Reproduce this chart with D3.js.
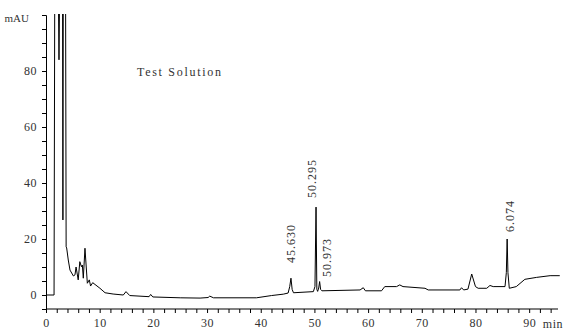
<!DOCTYPE html>
<html>
<head>
<meta charset="utf-8">
<script src="https://cdn.jsdelivr.net/npm/d3@7"></script>
<style>
  body { margin: 0; background: #fff; }
  text { font-family: "Liberation Serif", serif; fill: #333; }
</style>
</head>
<body>
<div id="chart"></div>
<script>
// chromatogram trace: [minutes, mAU]
var trace = [
    [0, 0], [1.5, 0], [1.68, 150], [2.1, 150], [2.42, 84], [2.74, 150],
    [3.05, 150], [3.15, 26.8], [3.25, 150], [3.6, 150], [3.75, 17.2],
    [3.85, 16.8], [4.15, 12.5], [4.47, 8.9], [5.1, 6.8], [5.4, 7.2], [5.6, 10],
    [6.0, 5.4], [6.3, 11.9], [6.6, 10.1], [6.77, 10.7], [6.95, 6], [7.26, 16.7],
    [7.7, 4.2], [8.07, 5.4], [8.3, 3.2], [8.7, 4.4], [10.05, 2.4], [11, 0.8],
    [12.5, 0.35], [14.4, 0], [14.9, 1.2], [15.6, -0.2], [19.2, -0.6], [19.5, 0.2],
    [19.9, -0.7], [25, -1.0], [28.7, -1.1], [30.2, -0.9], [30.5, -0.4], [31.2, -1],
    [39.2, -1], [42, -0.2], [44.2, 0.3], [45.1, 0.7], [45.4, 3], [45.63, 6],
    [45.85, 2], [46.1, 0.8], [49.8, 1.2], [50.1, 3], [50.3, 31.4], [50.45, 2],
    [50.6, 1.3], [50.8, 2.5], [50.97, 4.8], [51.15, 2], [51.4, 1.5], [58.5, 1.8],
    [59.1, 2.6], [59.5, 1.5], [62.5, 1.5], [63.1, 3], [65.3, 3], [65.9, 3.6],
    [66.5, 3.0], [70.6, 2.4], [71.2, 1.8], [77.1, 1.8], [77.4, 2.6], [77.8, 1.8],
    [78.6, 2.1], [79.3, 7.5], [80.0, 3], [80.5, 2.4], [82.1, 2.4], [82.7, 3.4],
    [83.3, 3], [85.5, 3], [85.75, 8], [85.9, 20], [86.05, 8], [86.3, 2.4],
    [87.6, 3], [89.2, 5.6], [91.4, 6.3], [93.9, 6.9], [95.7, 6.9]
];

// peak labels: text, where the label sits (minutes, mAU at its lower end)
var peakLabels = ["45.630", "50.295", "50.973", "6.074"];
var labelTimes = [45.6, 49.5, 52.4, 86.4];
var labelValues = [11.4, 34.6, 6.4, 22.5];

var yTicks = [0, 20, 40, 60, 80];
var xTicks = [0, 10, 20, 30, 40, 50, 60, 70, 80, 90];
var title = "Test Solution";

var width = 564, height = 331;
var svg = d3.select("#chart").append("svg")
    .attr("width", width)
    .attr("height", height);

var x = d3.scaleLinear().domain([0, 95]).range([46, 556]);
var y = d3.scaleLinear().domain([-5, 100]).range([309, 15]);

svg.append("defs").append("clipPath")
    .attr("id", "plotClip")
    .append("rect")
    .attr("x", 46).attr("y", 14)
    .attr("width", 520).attr("height", 296);

// y axis, minor ticks every 5
var yAxis = d3.axisLeft(y)
    .tickValues(d3.range(-5, 101, 5))
    .tickSize(4)
    .tickFormat(function (d) { return yTicks.indexOf(d) >= 0 ? d : ""; });
var gy = svg.append("g")
    .attr("transform", "translate(46,0)")
    .call(yAxis);
gy.select(".domain").attr("stroke", "#000");
gy.selectAll(".tick line").attr("stroke", "#000");
gy.selectAll("text")
    .attr("font-size", "12px")
    .attr("font-family", "Liberation Serif")
    .attr("letter-spacing", "0.5px")
    .attr("fill", "#333")
    .attr("x", -9);

// x axis, minor ticks every 2 min
var xAxis = d3.axisBottom(x)
    .tickValues(d3.range(0, 95, 2))
    .tickSize(4)
    .tickSizeOuter(0)
    .tickFormat(function (d) { return xTicks.indexOf(d) >= 0 ? d : ""; });
var gx = svg.append("g")
    .attr("transform", "translate(0,309)")
    .call(xAxis);
gx.select(".domain").attr("stroke", "#000").attr("d", "M46,0H558");
gx.selectAll(".tick line").attr("stroke", "#000");
gx.selectAll("text")
    .attr("font-size", "12px")
    .attr("font-family", "Liberation Serif")
    .attr("letter-spacing", "0.5px")
    .attr("fill", "#333")
    .attr("y", 9);

svg.append("text")
    .attr("x", 29).attr("y", 18)
    .attr("text-anchor", "end")
    .attr("dominant-baseline", "central")
    .attr("font-size", "11px")
    .text("mAU");

svg.append("text")
    .attr("x", 563).attr("y", 324)
    .attr("text-anchor", "end")
    .attr("dominant-baseline", "central")
    .attr("font-size", "12px")
    .attr("letter-spacing", "0.5px")
    .text("min");

svg.append("text")
    .attr("x", 137).attr("y", 72)
    .attr("dominant-baseline", "central")
    .attr("font-size", "12px")
    .attr("letter-spacing", "1.7px")
    .text(title);

var line = d3.line()
    .x(function (d) { return x(d[0]); })
    .y(function (d) { return y(d[1]); });

svg.append("path")
    .datum(trace)
    .attr("clip-path", "url(#plotClip)")
    .attr("d", line)
    .attr("fill", "none")
    .attr("stroke", "#000")
    .attr("stroke-width", 1);

peakLabels.forEach(function (lbl, i) {
    var px = x(labelTimes[i]), py = y(labelValues[i]);
    svg.append("text")
        .attr("transform", "translate(" + px + "," + py + ") rotate(-90)")
        .attr("dominant-baseline", "central")
        .attr("font-size", "12px")
        .attr("letter-spacing", "1px")
        .text(lbl);
});
</script>
</body>
</html>
